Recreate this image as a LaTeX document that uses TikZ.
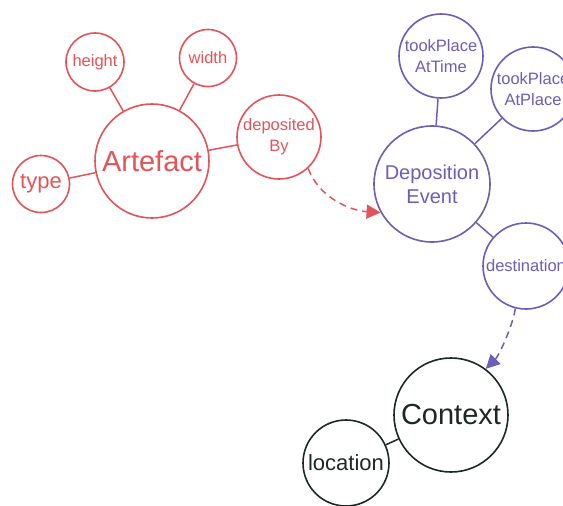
\documentclass[tikz,border=0pt]{standalone}
\usepackage{fontspec}
\setmainfont{Liberation Sans}
\usetikzlibrary{arrows.meta}
\definecolor{artred}{RGB}{229,83,88}
\definecolor{evpurple}{RGB}{108,93,181}
\definecolor{ctxdark}{RGB}{28,40,35}
\begin{document}
\begin{tikzpicture}[x=1pt,y=-1pt,
  bubble/.style={circle,draw,line width=1.6pt,inner sep=-8pt,align=center},
  bigtext/.style={font=\fontsize{29}{34}\selectfont},
  midtext/.style={font=\fontsize{22}{26}\selectfont},
  evtext/.style={font=\fontsize{20}{24}\selectfont},
  smalltext/.style={font=\fontsize{16.5}{21}\selectfont},
  link/.style={line width=1.5pt},
  dasharrow/.style={line width=1.5pt,dash pattern=on 7pt off 5pt,
    -{Triangle[length=14pt,width=14pt]}}
]
\useasboundingbox (0,0) rectangle (563,506);

% Artefact cluster
\node[bubble,artred,bigtext,minimum size=114pt] (art) at (152,161) {Artefact};
\node[bubble,artred,midtext,minimum size=57pt] (type) at (41,184) {type};
\node[bubble,artred,smalltext,minimum size=58pt] (hgt) at (95,62) {height};
\node[bubble,artred,smalltext,minimum size=57pt] (wid) at (208,58) {width};
\node[bubble,artred,smalltext,minimum size=84pt] (dep) at (279,137) {deposited\\By};
\foreach \n in {type,hgt,wid,dep} \draw[link,artred] (art) -- (\n);

% Deposition event cluster
\node[bubble,evpurple,evtext,minimum size=116pt] (de) at (432,184) {Deposition\\Event};
\node[bubble,evpurple,smalltext,minimum size=84pt] (tpt) at (441,56) {tookPlace\\AtTime};
\node[bubble,evpurple,smalltext,minimum size=84pt] (tpp) at (533,89) {tookPlace\\AtPlace};
\node[bubble,evpurple,smalltext,minimum size=86pt] (dst) at (526,266) {destination};
\foreach \n in {tpt,tpp,dst} \draw[link,evpurple] (de) -- (\n);

% Context cluster
\node[bubble,ctxdark,bigtext,minimum size=114pt] (ctx) at (451,415) {Context};
\node[bubble,ctxdark,midtext,minimum size=86pt] (loc) at (346,463) {location};
\draw[link,ctxdark] (ctx) -- (loc);

% Dashed links between clusters
\draw[dasharrow,artred] (dep.-47) .. controls +(10,28) and +(-32,-2) .. (de.209);
\draw[dasharrow,evpurple] (dst.-104) .. controls +(-4,22) and +(12,-12) .. (ctx.53);
\end{tikzpicture}
\end{document}
